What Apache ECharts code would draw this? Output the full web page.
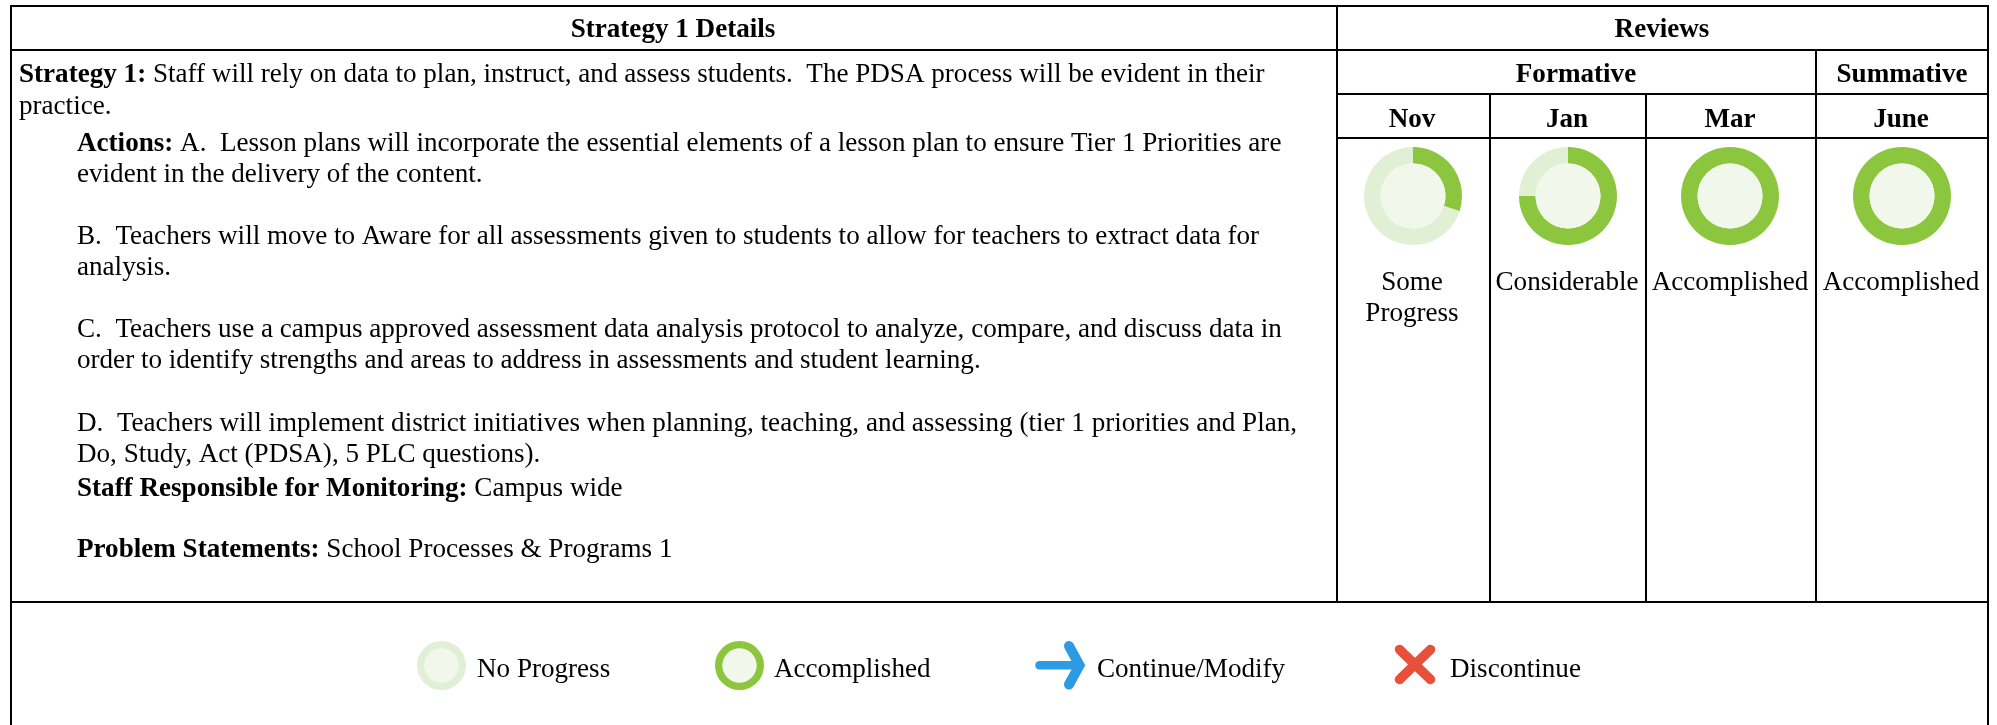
<!DOCTYPE html>
<html lang="en">
<head>
    <meta charset="UTF-8">
    <title>Strategy 1 Details</title>
    <style>
      html, body { margin: 0; padding: 0; background: #fff; }
      #img { width: 1997px; height: 725px; }
    </style>
</head>
<body>
    <div id="img"></div>

    <script src="https://cdn.jsdelivr.net/npm/echarts@6/dist/echarts.min.js"></script>
    <script type="text/javascript">
      var months = ['Nov', 'Jan', 'Mar', 'June'];
      var reviewLabels = [['Some', 'Progress'], ['Considerable'], ['Accomplished'], ['Accomplished']];
      var reviewDone = [30, 75, 100, 100];

      var legendNames = ['No Progress', 'Accomplished', 'Continue/Modify', 'Discontinue'];
      var legendDone = [0, 100];

      var detailLines = [
        '{b|Strategy 1:} Staff will rely on data to plan, instruct, and assess students.  The PDSA process will be evident in their',
        'practice.',
        '{b|Actions:} A.  Lesson plans will incorporate the essential elements of a lesson plan to ensure Tier 1 Priorities are',
        'evident in the delivery of the content.',
        'B.  Teachers will move to Aware for all assessments given to students to allow for teachers to extract data for',
        'analysis.',
        'C.  Teachers use a campus approved assessment data analysis protocol to analyze, compare, and discuss data in',
        'order to identify strengths and areas to address in assessments and student learning.',
        'D.  Teachers will implement district initiatives when planning, teaching, and assessing (tier 1 priorities and Plan,',
        'Do, Study, Act (PDSA), 5 PLC questions).',
        '{b|Staff Responsible for Monitoring:} Campus wide',
        '{b|Problem Statements:} School Processes & Programs 1'
      ];

      // layout, in page pixels
      var detailX = [19, 19, 77, 77, 77, 77, 77, 77, 77, 77, 77, 77];
      var detailY = [75, 107, 143.5, 175, 237, 268, 329.5, 361, 423.5, 455, 488.5, 550];
      var monthX = [1412, 1567, 1730, 1901];
      var ringX = [1413, 1568, 1730, 1902];
      var legendRingX = [441.5, 739.5];
      var legendTextX = [477, 774, 1097, 1450];

      var GREEN = '#8bc63e', TRACK = '#e1efd4', INNER = '#f1f7ea';
      var FONT = '"Liberation Serif", "Times New Roman", serif';
      var FONT_SIZE = '27.1px ';

      var elements = [];

      function line(x1, y1, x2, y2) {
        elements.push({
          type: 'line', silent: true,
          shape: {x1: x1, y1: y1, x2: x2, y2: y2},
          style: {stroke: '#000', lineWidth: 2}
        });
      }

      function label(text, x, y, bold, align) {
        elements.push({
          type: 'text', silent: true, x: x, y: y,
          style: {
            text: text,
            fill: '#000',
            font: (bold ? 'bold ' : '') + FONT_SIZE + FONT,
            align: align || 'center',
            verticalAlign: 'middle',
            rich: {b: {font: 'bold ' + FONT_SIZE + FONT, fill: '#000'}}
          }
        });
      }

      // table grid
      line(11, 6, 1988, 6);
      line(11, 50, 1988, 50);
      line(1337, 94, 1988, 94);
      line(1337, 138, 1988, 138);
      line(11, 602, 1988, 602);
      line(11, 5, 11, 725);
      line(1988, 5, 1988, 725);
      line(1337, 5, 1337, 602);
      line(1816, 50, 1816, 602);
      line(1490, 94, 1490, 602);
      line(1646, 94, 1646, 602);

      // headers
      label('Strategy 1 Details', 673, 30, true);
      label('Reviews', 1662, 30, true);
      label('Formative', 1576, 75, true);
      label('Summative', 1902, 75, true);
      months.forEach(function (m, i) { label(m, monthX[i], 119.5, true); });

      detailLines.forEach(function (t, i) { label(t, detailX[i], detailY[i], false, 'left'); });

      reviewLabels.forEach(function (rows, i) {
        rows.forEach(function (t, j) { label(t, monthX[i], 283 + j * 31, false); });
      });

      legendNames.forEach(function (t, i) { label(t, legendTextX[i], 670, false, 'left'); });

      // continue arrow and discontinue cross
      elements.push({
        type: 'line', silent: true,
        shape: {x1: 1039.5, y1: 665.3, x2: 1080, y2: 665.3},
        style: {stroke: '#2d9be4', lineWidth: 8.5, lineCap: 'round'}
      }, {
        type: 'polyline', silent: true,
        shape: {points: [[1069, 646], [1079.5, 665.3], [1069, 684.5]]},
        style: {fill: 'none', stroke: '#2d9be4', lineWidth: 10, lineCap: 'round', lineJoin: 'miter', miterLimit: 4}
      }, {
        type: 'line', silent: true,
        shape: {x1: 1399.5, y1: 649.5, x2: 1430.5, y2: 679.5},
        style: {stroke: '#e8503a', lineWidth: 9.5, lineCap: 'round'}
      }, {
        type: 'line', silent: true,
        shape: {x1: 1430.5, y1: 649.5, x2: 1399.5, y2: 679.5},
        style: {stroke: '#e8503a', lineWidth: 9.5, lineCap: 'round'}
      });

      function ring(x, y, inner, outer, done) {
        return [{
          type: 'pie', silent: true, animation: false, center: [x, y],
          radius: [inner, outer], startAngle: 90, clockwise: true,
          label: {show: false}, labelLine: {show: false},
          data: [
            {value: done, itemStyle: {color: GREEN}},
            {value: 100 - done, itemStyle: {color: TRACK}}
          ]
        }, {
          type: 'pie', silent: true, animation: false, center: [x, y],
          radius: [0, inner],
          label: {show: false}, labelLine: {show: false},
          data: [{value: 1, itemStyle: {color: INNER}}]
        }];
      }

      var series = [];
      reviewDone.forEach(function (d, i) { series = series.concat(ring(ringX[i], 196, 32.5, 49, d)); });
      legendDone.forEach(function (d, i) { series = series.concat(ring(legendRingX[i], 665.5, 17, 24.5, d)); });

      var myChart = echarts.init(document.getElementById('img'), null, {renderer: 'canvas'});
      myChart.setOption({
        backgroundColor: '#fff',
        animation: false,
        graphic: {elements: elements},
        series: series
      });
    </script>
</body>
</html>
